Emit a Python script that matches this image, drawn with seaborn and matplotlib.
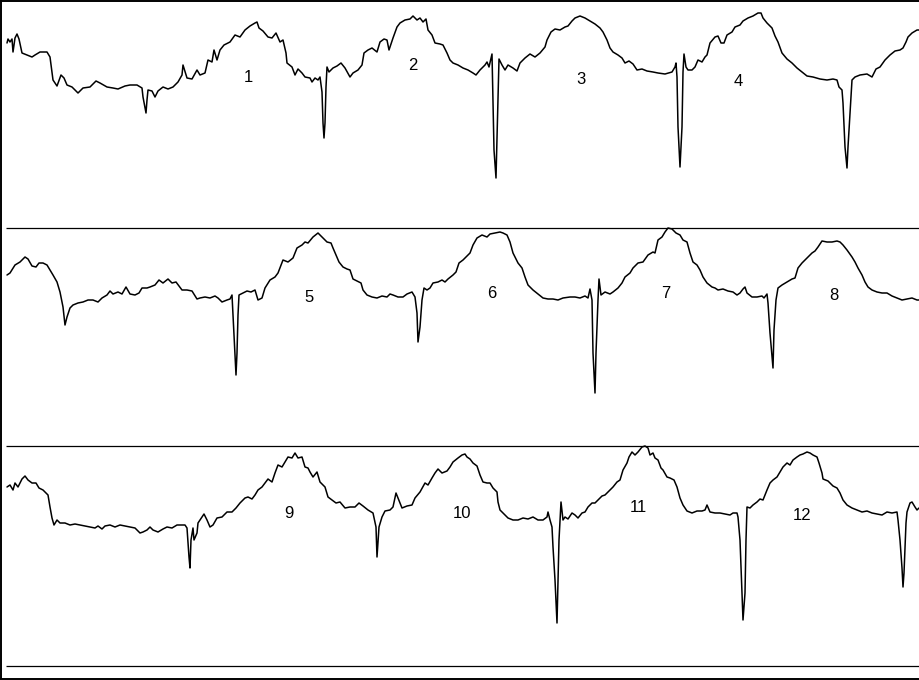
import matplotlib
matplotlib.use("Agg")
import matplotlib.pyplot as plt
import seaborn as sns
import pandas as pd

# trace samples: (sample position, vertical reading)
trace_1 = [(7,43),(8,39),(10,42),(12,39),(13,52),(15,38),(17,34),(19,39),(22,53),(27,55),(32,57),(35,55),
           (40,52),(47,52),(50,57),(53,80),(57,86),(61,75),(64,78),(67,85),(72,87),(78,93),(83,88),(90,87),
           (96,81),(100,83),(107,87),(113,88),(118,89),(125,86),(130,85),(137,85),(142,88),(143,97),(146,113),
           (147,100),(148,90),(152,91),(155,97),(158,91),(163,87),(168,89),(173,87),(178,82),(182,75),(183,65),
           (187,78),(192,79),(197,70),(200,75),(205,73),(208,60),(212,62),(214,50),(217,60),(220,50),(224,45),
           (230,42),(235,35),(240,37),(245,30),(250,26),(255,23),(257,22),(259,28),(263,31),(268,37),(272,38),
           (276,33),(280,42),(283,40),(286,53),(287,63),(292,67),(295,75),(298,69),(302,73),(305,77),(310,78),
           (312,82),(315,78),(318,80),(320,77),(322,92),(323,123),(324,138),(325,123),(326,87),(327,67),(329,72),
           (333,68),(337,66),(341,63),(345,68),(350,77),(353,73),(358,70),(362,65),(364,53),(368,50),(372,48),
           (377,52),(380,42),(384,39),(387,40),(389,50),(393,38),(397,27),(400,23),(405,20),(410,19),(413,16),
           (417,20),(420,18),(423,22),(426,19),(428,30),(432,35),(435,43),(440,44),(443,45),(447,53),(450,60),
           (453,63),(458,65),(463,68),(468,70),(473,73),(476,75),(480,70),(485,65),(487,62),(489,67),(492,54),
           (494,150),(496,178),(498,97),(499,59),(502,65),(505,70),(508,65),(513,68),(517,71),(520,63),(525,58),
           (530,54),(535,57),(540,53),(545,47),(547,40),(551,32),(555,29),(560,30),(565,27),(568,26),(572,21),
           (575,18),(580,16),(585,18),(590,21),(595,24),(600,28),(603,32),(607,40),(610,48),(613,52),(618,55),
           (622,58),(625,63),(629,61),(633,64),(637,70),(642,69),(647,71),(653,72),(658,73),(665,74),(672,72),
           (675,67),(676,63),(677,77),(678,127),(680,167),(682,127),(683,72),(684,54),(686,67),(688,70),(692,70),
           (695,67),(698,60),(702,62),(705,57),(707,55),(710,43),(715,37),(718,36),(721,43),(724,43),(727,35),
           (732,32),(735,27),(740,25),(743,21),(748,18),(753,16),(758,13),(761,13),(763,18),(767,23),(772,28),
           (775,36),(778,42),(782,53),(787,59),(792,63),(797,68),(802,72),(807,76),(813,77),(820,79),(827,80),
           (833,79),(837,80),(839,87),(842,90),(843,103),(845,147),(847,168),(848,147),(850,113),(852,80),
           (855,77),(860,75),(867,74),(872,77),(876,69),(880,67),(885,60),(890,55),(895,51),(900,50),(903,48),
           (906,42),(908,37),(912,33),(917,30),(919,30)]

trace_2 = [(7,275),(10,273),(15,265),(20,262),(25,257),(28,259),(32,266),(36,267),(39,263),(43,263),(47,265),
           (50,270),(53,275),(57,282),(60,292),(63,307),(65,325),(67,317),(70,308),(73,305),(78,303),(83,302),
           (88,300),(93,300),(98,302),(102,298),(107,295),(110,291),(113,294),(118,292),(122,294),(126,287),
           (130,294),(135,295),(139,293),(142,288),(147,288),(150,287),(155,285),(159,280),(163,283),(168,279),
           (172,283),(176,282),(182,290),(187,290),(192,291),(197,299),(200,298),(205,297),(210,298),(215,296),
           (218,298),(222,302),(227,300),(230,299),(232,295),(233,315),(235,353),(236,375),(237,353),(238,315),
           (239,295),(243,293),(247,291),(251,292),(255,290),(258,300),(262,298),(265,288),(270,280),(275,277),
           (278,273),(283,260),(288,262),(293,258),(297,248),(302,245),(305,242),(308,243),(313,237),(318,233),
           (323,238),(327,242),(331,243),(333,248),(336,255),(339,262),(343,267),(347,269),(350,270),(353,279),
           (357,281),(361,283),(363,290),(367,295),(372,297),(377,298),(382,296),(387,297),(390,294),(393,295),
           (398,297),(403,297),(407,294),(412,292),(415,297),(417,313),(418,342),(420,327),(422,300),(424,288),
           (427,290),(430,288),(433,283),(438,282),(442,280),(445,282),(448,279),(453,275),(456,272),(459,263),
           (463,260),(467,256),(470,253),(473,245),(477,238),(482,235),(487,237),(490,234),(495,233),(500,232),
           (503,233),(507,235),(510,242),(513,253),(518,263),(522,268),(525,277),(528,285),(533,290),(538,294),
           (543,298),(548,299),(553,299),(558,300),(563,298),(570,297),(575,297),(580,298),(585,296),(588,298),
           (590,289),(592,300),(593,353),(595,393),(596,353),(598,300),(599,279),(601,295),(605,292),(610,294),
           (613,292),(618,288),(622,283),(625,277),(630,273),(633,268),(638,263),(643,262),(648,255),(653,252),
           (655,253),(658,240),(662,237),(665,232),(668,228),(672,229),(676,233),(680,235),(683,240),(687,242),
           (690,253),(693,262),(697,265),(700,270),(703,277),(707,283),(712,287),(715,288),(718,290),(723,289),
           (728,291),(733,292),(737,295),(740,293),(743,289),(745,287),(747,293),(752,297),(757,297),(762,296),
           (764,298),(767,294),(768,303),(770,333),(772,357),(773,368),(774,330),(776,300),(778,288),(782,285),
           (787,282),(792,279),(795,278),(798,268),(802,263),(805,260),(808,257),(812,253),(815,251),(818,247),
           (822,241),(827,242),(832,242),(837,241),(840,242),(843,245),(847,250),(852,257),(855,262),(858,268),
           (862,275),(865,282),(868,287),(872,290),(877,292),(882,293),(887,293),(892,296),(897,298),(902,300),
           (907,299),(912,298),(917,300),(919,300)]

trace_3 = [(7,487),(10,485),(13,490),(15,483),(18,487),(22,479),(25,476),(28,480),(32,483),(36,483),(39,488),
           (43,490),(48,495),(50,507),(52,518),(54,525),(57,520),(60,523),(65,523),(70,525),(75,524),(80,525),
           (85,526),(90,527),(95,528),(98,526),(102,529),(105,526),(110,525),(115,527),(120,525),(125,526),
           (130,527),(135,528),(140,533),(143,532),(147,530),(150,527),(153,530),(158,532),(163,529),(167,527),
           (172,528),(177,525),(182,525),(185,525),(187,528),(188,543),(189,557),(190,568),(191,540),(193,528),
           (194,540),(197,533),(198,523),(202,517),(204,514),(207,520),(210,527),(213,525),(217,518),(222,517),
           (227,512),(232,512),(236,508),(240,503),(245,498),(248,497),(252,499),(255,495),(258,490),(262,487),
           (265,483),(268,479),(272,482),(275,473),(278,465),(282,467),(285,462),(288,457),(292,458),(295,453),
           (298,458),(302,457),(305,467),(308,468),(310,472),(313,477),(317,472),(320,482),(325,487),(328,497),
           (332,500),(336,503),(340,502),(345,508),(350,507),(355,507),(359,503),(363,506),(368,510),(373,513),
           (376,527),(377,557),(379,527),(382,517),(385,511),(390,510),(393,507),(396,493),(398,498),(402,508),
           (407,506),(412,505),(415,498),(420,492),(425,483),(428,485),(432,478),(435,473),(438,469),(442,473),
           (447,471),(450,467),(453,462),(458,458),(462,455),(465,454),(467,457),(470,459),(473,463),(477,466),
           (480,475),(483,482),(487,483),(490,483),(493,488),(497,492),(498,502),(500,510),(503,513),(508,518),
           (513,520),(518,520),(523,518),(528,519),(533,517),(538,520),(543,520),(547,517),(548,512),(550,520),
           (552,527),(553,547),(555,580),(557,623),(558,583),(559,540),(561,502),(563,520),(565,517),(568,519),
           (572,513),(575,515),(578,518),(582,513),(585,512),(588,507),(592,503),(595,503),(598,500),(602,496),
           (605,495),(608,492),(613,487),(617,482),(620,480),(623,470),(627,463),(629,457),(632,452),(635,455),
           (638,452),(642,447),(645,446),(648,448),(650,455),(653,453),(655,458),(658,460),(661,468),(663,470),
           (667,477),(670,478),(674,480),(677,487),(680,498),(683,505),(687,511),(692,513),(697,511),(702,511),
           (705,510),(707,505),(710,512),(715,513),(720,513),(725,514),(730,515),(733,513),(737,513),(738,517),
           (740,540),(742,593),(743,620),(745,593),(746,540),(747,507),(750,508),(753,505),(757,502),(760,499),
           (763,500),(767,490),(770,483),(773,480),(777,477),(780,472),(783,467),(787,463),(790,465),(793,460),
           (797,457),(800,455),(803,454),(807,452),(810,453),(813,455),(817,457),(819,463),(822,473),(823,479),
           (828,481),(833,486),(837,488),(840,493),(843,500),(847,505),(852,508),(857,510),(862,512),(867,511),
           (872,513),(877,514),(882,515),(887,512),(892,513),(897,512),(898,520),(900,540),(902,568),(903,587),
           (904,573),(905,547),(906,523),(907,512),(910,503),(912,502),(915,507),(917,510),(919,508)]

beat_labels = ["1", "2", "3", "4", "5", "6", "7", "8", "9", "10", "11", "12"]
label_x = [248, 413, 581, 738, 309, 492, 666, 834, 289, 462, 638, 802]
label_y = [77, 65, 79, 82, 298, 293, 294, 295, 514, 514, 508, 515]

rows = []
for name, trace in [("strip 1", trace_1), ("strip 2", trace_2), ("strip 3", trace_3)]:
    for x, y in trace:
        rows.append({"strip": name, "x": x, "y": y})
df = pd.DataFrame(rows)

sns.set_theme(style="white")
plt.rcParams['font.family'] = ['Liberation Sans', 'DejaVu Sans']

fig = plt.figure(figsize=(9.19, 6.80), dpi=100)
ax = fig.add_axes([0, 0, 1, 1])

sns.lineplot(data=df, x="x", y="y", units="strip", estimator=None, sort=False,
             color="black", linewidth=1.1, ax=ax)

for txt, lx, ly in zip(beat_labels, label_x, label_y):
    ax.text(lx, ly, txt, ha="center", va="center", fontsize=12, color="black")

# strip separators and frame
ax.hlines([228, 446, 666], 6, 919, color="black", linewidth=0.9)
ax.hlines([0.5, 678.5], 0, 919, color="black", linewidth=1.4)
ax.vlines([0.7], 0, 679, color="black", linewidth=1.4)

ax.set_xlim(0, 919)
ax.set_ylim(680, 0)
ax.set_axis_off()

plt.savefig("out.png", dpi=100)
plt.close()
